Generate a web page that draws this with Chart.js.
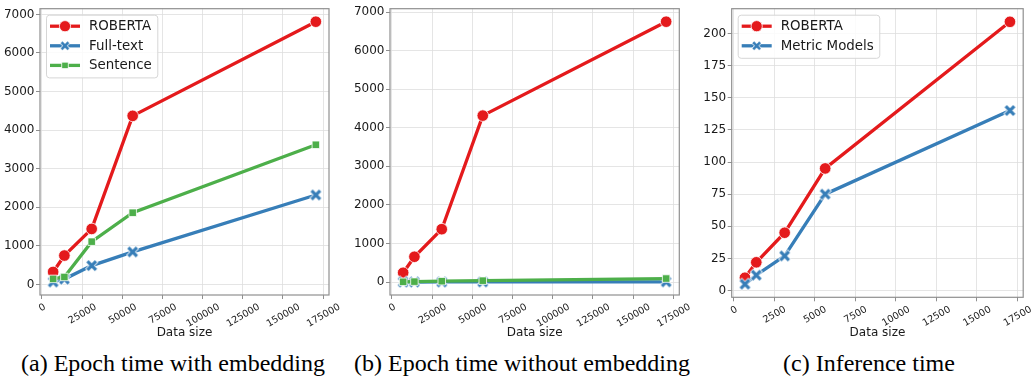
<!DOCTYPE html>
<html>
<head>
<meta charset="utf-8">
<script src="https://cdn.jsdelivr.net/npm/chart.js@4.4.0/dist/chart.umd.min.js"></script>
<style>
  body { margin: 0; background: #fff; width: 1031px; height: 377px; overflow: hidden; position: relative; }
  .panel { position: absolute; top: 0; }
  .cap { position: absolute; top: 351px; width: 400px; text-align: center; white-space: nowrap;
         font: 24px/24px "Liberation Serif", "Times New Roman", serif; color: #000; }
</style>
</head>
<body>
<div class="panel" style="left:0"><canvas id="chartA" width="340" height="340"></canvas></div>
<div class="panel" style="left:345px"><canvas id="chartB" width="345" height="340"></canvas></div>
<div class="panel" style="left:690px"><canvas id="chartC" width="341" height="340"></canvas></div>
<div class="cap" style="left:-27px">(a) Epoch time with embedding</div>
<div class="cap" style="left:322px">(b) Epoch time without embedding</div>
<div class="cap" style="left:669px">(c) Inference time</div>

<script>
// data
const dataSizes = [7000, 14000, 31000, 56500, 170500]
const inferenceSizes = [700, 1400, 3150, 5650, 17050]

const robertaWithEmb = [325, 750, 1440, 4370, 6810]
const fullTextWithEmb = [65, 140, 490, 845, 2320]
const sentenceWithEmb = [145, 195, 1110, 1860, 3620]

const robertaNoEmb = [240, 655, 1370, 4315, 6750]
const fullTextNoEmb = [1, 1, 2, 3, 4]
const sentenceNoEmb = [5, 10, 22, 35, 90]

const robertaInference = [10, 22, 45, 95, 209]
const metricInference = [5, 12, 27, 75, 140]

const epochXTicks = [0, 25000, 50000, 75000, 100000, 125000, 150000, 175000]
const inferenceXTicks = [0, 2500, 5000, 7500, 10000, 12500, 15000, 17500]
const epochYTicks = [0, 1000, 2000, 3000, 4000, 5000, 6000, 7000]
const inferenceYTicks = [0, 25, 50, 75, 100, 125, 150, 175, 200]

const RED = '#e41a1c'
const BLUE = '#377eb8'
const GREEN = '#4daf4a'
const TEXT = '#1a1a1a'
const FONT = '"DejaVu Sans", sans-serif'
const LINE_W = 3.3

// filled X marker with a thin white edge, used as a point image
function xMarker(color) {
  const c = document.createElement('canvas')
  c.width = 15
  c.height = 15
  const g = c.getContext('2d')
  g.translate(7.5, 7.5)
  const draw = (col, lw, l) => {
    g.strokeStyle = col
    g.lineWidth = lw
    g.beginPath()
    g.moveTo(-l, -l); g.lineTo(l, l)
    g.moveTo(-l, l); g.lineTo(l, -l)
    g.stroke()
  }
  draw('#fff', 4.8, 4.9)
  draw(color, 3.2, 4.3)
  return c
}

const markers = {
  circle: { pointStyle: 'circle', pointRadius: 5.8 },
  square: { pointStyle: 'rect', pointRadius: 5.3 }
}

function series(label, values, color, marker) {
  return { label, values, color, marker }
}

// margins like matplotlib's default 5%
function padRange(vals) {
  const lo = Math.min(...vals)
  const hi = Math.max(...vals)
  const m = (hi - lo) * 0.05
  return [lo - m, hi + m]
}

function drawMarker(ctx, marker, color, x, y) {
  ctx.save()
  ctx.fillStyle = color
  ctx.strokeStyle = '#fff'
  ctx.lineWidth = 0.8
  if (marker === 'circle') {
    ctx.beginPath()
    ctx.arc(x, y, 5.6, 0, Math.PI * 2)
    ctx.fill()
    ctx.stroke()
  } else if (marker === 'square') {
    const s = 4.6 * Math.SQRT1_2
    ctx.fillRect(x - s, y - s, 2 * s, 2 * s)
    ctx.strokeRect(x - s, y - s, 2 * s, 2 * s)
  } else {
    const img = xMarker(color)
    ctx.drawImage(img, x - img.width / 2 + 1.5, y - img.height / 2 + 1.5, img.width - 3, img.height - 3)
  }
  ctx.restore()
}

const framePlugin = {
  id: 'frame',
  afterDatasetsDraw(chart) {
    const { ctx, chartArea: a } = chart
    ctx.save()
    ctx.strokeStyle = '#8f8f8f'
    ctx.lineWidth = 1.2
    ctx.strokeRect(a.left, a.top, a.right - a.left, a.bottom - a.top)
    ctx.restore()
  }
}

// rotated x tick labels, centred under each tick like matplotlib
const xLabelPlugin = {
  id: 'xlabels',
  afterDraw(chart) {
    const { ctx } = chart
    const s = chart.scales.x
    const size = 9.6
    const rot = 30 * Math.PI / 180
    ctx.save()
    ctx.font = size + 'px ' + FONT
    ctx.fillStyle = TEXT
    ctx.textAlign = 'center'
    ctx.textBaseline = 'alphabetic'
    s.ticks.forEach((t) => {
      const label = String(t.value)
      const w = ctx.measureText(label).width
      const h = size * 0.73
      const bh = w * Math.sin(rot) + h * Math.cos(rot)
      const px = s.getPixelForValue(t.value)
      const py = s.top + 7.5 + bh / 2
      ctx.save()
      ctx.translate(px, py)
      ctx.rotate(-rot)
      ctx.fillText(label, 0, h / 2)
      ctx.restore()
    })
    ctx.restore()
  }
}

// legend box in the upper left corner of the plot
const legendPlugin = {
  id: 'cornerLegend',
  afterDraw(chart) {
    const { ctx, chartArea: a } = chart
    const ds = chart.data.datasets
    ctx.save()
    ctx.font = '13.4px ' + FONT
    const tw = Math.max(...ds.map(d => ctx.measureText(d.label).width))
    const left = a.left + 6.5
    const top = a.top + 6.5
    const rowH = 19.6
    const hx0 = left + 3.5
    const hx1 = hx0 + 30
    const tx = hx1 + 9
    const right = tx + tw + 6
    const bottom = top + 11 + rowH * (ds.length - 1) + 12.5
    ctx.beginPath()
    ctx.roundRect(left, top, right - left, bottom - top, 3)
    ctx.fillStyle = 'rgba(255,255,255,0.85)'
    ctx.fill()
    ctx.strokeStyle = '#d6d6d6'
    ctx.lineWidth = 1
    ctx.stroke()
    ds.forEach((d, i) => {
      const y = top + 11 + rowH * i
      ctx.strokeStyle = d.borderColor
      ctx.lineWidth = LINE_W
      ctx.beginPath()
      ctx.moveTo(hx0, y)
      ctx.lineTo(hx1, y)
      ctx.stroke()
      drawMarker(ctx, d.marker, d.borderColor, (hx0 + hx1) / 2, y)
      ctx.fillStyle = TEXT
      ctx.textBaseline = 'middle'
      ctx.fillText(d.label, tx, y + 0.5)
    })
    ctx.restore()
  }
}

function lineChart(id, xs, list, xTicks, yTicks, box) {
  const [xMin, xMax] = padRange(xs)
  const [yMin, yMax] = padRange(list.flatMap(s => s.values))
  const grid = { color: '#dedede', lineWidth: 0.8, tickLength: 4, tickColor: '#8f8f8f', tickWidth: 1 }

  const datasets = list.map((s, i) => {
    const style = s.marker === 'x'
      ? { pointStyle: xMarker(s.color), pointRadius: 7 }
      : markers[s.marker]
    return {
      label: s.label,
      marker: s.marker,
      data: xs.map((x, j) => ({ x, y: s.values[j] })),
      borderColor: s.color,
      backgroundColor: s.color,
      borderWidth: LINE_W,
      pointBackgroundColor: s.color,
      pointBorderColor: '#fff',
      pointBorderWidth: 0.8,
      pointHoverRadius: style.pointRadius,
      order: list.length - i,
      ...style
    }
  })

  return new Chart(document.getElementById(id), {
    type: 'line',
    data: { datasets },
    options: {
      responsive: false,
      animation: false,
      layout: { padding: { top: box.top, right: box.right, left: 0, bottom: 0 } },
      scales: {
        x: {
          type: 'linear',
          min: xMin,
          max: xMax,
          afterBuildTicks: (s) => { s.ticks = xTicks.map(v => ({ value: v })) },
          afterFit: (s) => { s.height = box.xHeight },
          grid,
          border: { display: false },
          ticks: { display: false },
          title: {
            display: true,
            text: 'Data size',
            color: TEXT,
            font: { family: FONT, size: 12 },
            padding: { top: 0, bottom: 0 }
          }
        },
        y: {
          type: 'linear',
          min: yMin,
          max: yMax,
          afterBuildTicks: (s) => { s.ticks = yTicks.map(v => ({ value: v })) },
          afterFit: (s) => { s.width = box.yWidth },
          grid,
          border: { display: false },
          ticks: {
            color: TEXT,
            font: { family: FONT, size: 12 },
            padding: 1.5,
            callback: v => String(v)
          }
        }
      },
      plugins: { legend: { display: false }, tooltip: { enabled: false } }
    },
    plugins: [framePlugin, xLabelPlugin, box.legend ? legendPlugin : { id: 'none' }]
  })
}

lineChart('chartA', dataSizes, [
  series('ROBERTA', robertaWithEmb, RED, 'circle'),
  series('Full-text', fullTextWithEmb, BLUE, 'x'),
  series('Sentence', sentenceWithEmb, GREEN, 'square')
], epochXTicks, epochYTicks, { top: 7, right: 11, yWidth: 40, xHeight: 45, legend: true })

lineChart('chartB', dataSizes, [
  series('ROBERTA', robertaNoEmb, RED, 'circle'),
  series('Full-text', fullTextNoEmb, BLUE, 'x'),
  series('Sentence', sentenceNoEmb, GREEN, 'square')
], epochXTicks, epochYTicks, { top: 7, right: 10.7, yWidth: 45, xHeight: 45, legend: false })

lineChart('chartC', inferenceSizes, [
  series('ROBERTA', robertaInference, RED, 'circle'),
  series('Metric Models', metricInference, BLUE, 'x')
], inferenceXTicks, inferenceYTicks, { top: 5, right: 6, yWidth: 41.7, xHeight: 42.7, legend: true })
</script>
</body>
</html>
